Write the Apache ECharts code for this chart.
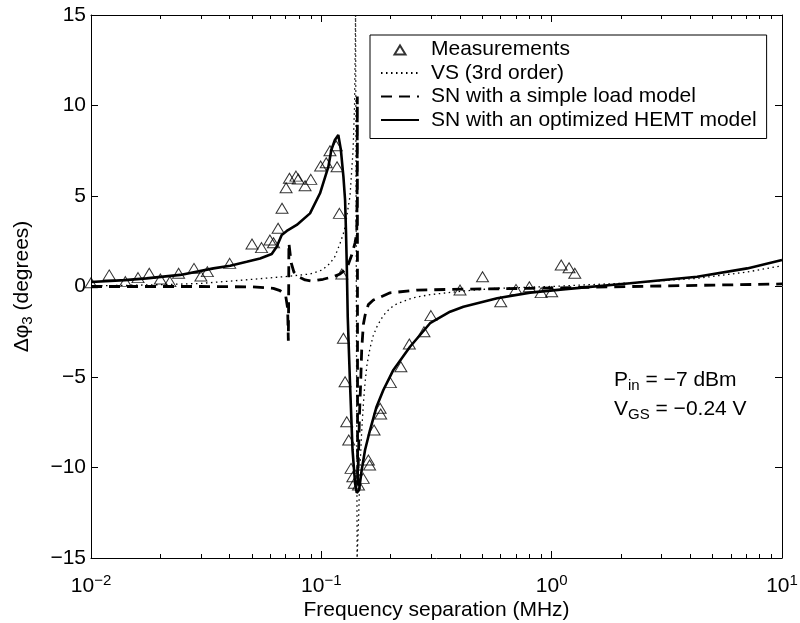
<!DOCTYPE html>
<html><head><meta charset="utf-8">
<script src="https://cdn.jsdelivr.net/npm/echarts@6/dist/echarts.min.js"></script>
<style>html,body{margin:0;padding:0;background:#fff}#c{width:800px;height:623px}</style>
</head><body><div id="c"></div>
<script>
// ---- data ----
const seriesNames = ['Measurements', 'VS (3rd order)', 'SN with a simple load model', 'SN with an optimized HEMT model'];

const measFreq = [0.0100,0.0120,0.0141,0.0160,0.0179,0.0200,0.0220,0.0240,0.0280,0.0300,0.0320,0.0400,0.0500,0.0550,0.0598,0.0620,0.0649,0.0675,0.0703,0.0727,0.0776,0.0794,0.0850,0.0900,0.0993,0.1050,0.1090,0.1160,0.1170,0.1198,0.1227,0.1247,0.1268,0.1289,0.1315,0.1346,0.1370,0.1390,0.1450,0.1520,0.1600,0.1620,0.1694,0.1800,0.1810,0.1994,0.2215,0.2410,0.2790,0.2990,0.4000,0.5010,0.6010,0.7000,0.8000,0.9000,1.0000,1.1000,1.1900,1.2600];
const measPhase = [0.21,0.64,0.27,0.49,0.73,0.41,0.27,0.73,1.00,0.58,0.82,1.28,2.35,2.15,2.57,2.42,3.22,4.32,5.46,5.98,6.10,5.94,5.57,5.92,6.66,6.84,7.50,7.78,6.62,4.04,0.69,-2.86,-5.26,-7.47,-8.48,-10.05,-10.51,-10.87,-10.97,-10.60,-9.59,-9.86,-7.93,-6.73,-7.04,-5.31,-4.43,-3.18,-2.50,-1.61,-0.19,0.54,-0.84,-0.16,-0.01,-0.34,-0.29,1.19,1.04,0.73];

const vsFreq = [0.01,0.02,0.03,0.0506,0.07,0.0893,0.1008,0.1091,0.1145,0.1206,0.1247,0.1268,0.1332,0.1373,0.1394,0.1408,0.1430,0.1450,0.1472,0.1497,0.1522,0.1548,0.1579,0.1627,0.1682,0.1746,0.1859,0.1988,0.2132,0.2502,0.2965,0.4124,0.5793,0.984,2.19,4.28,7.06,10];
const vsPhase = [0.03,0.10,0.17,0.40,0.55,0.69,0.91,1.28,1.65,2.38,2.94,3.30,5.0,7.5,10.0,15.0,-15.0,-13.0,-10.0,-8.0,-6.5,-5.3,-4.3,-3.4,-2.7,-2.2,-1.6,-1.2,-0.95,-0.62,-0.45,-0.25,-0.10,0.0,0.20,0.45,0.80,1.15];

const snSimpleFreq = [0.01,0.03,0.05,0.0619,0.0662,0.0700,0.0714,0.0719,0.0721,0.0723,0.0740,0.0760,0.0795,0.085,0.0908,0.1018,0.1128,0.1206,0.1290,0.1355,0.1400,0.1425,0.1430,0.1433,0.1437,0.1452,0.1465,0.1480,0.1497,0.1522,0.1548,0.1600,0.1682,0.1988,0.2596,0.3622,0.806,3.045,10];
const snSimplePhase = [0.0,0.0,-0.02,-0.10,-0.23,-0.50,-1.2,-3.0,-1.0,2.4,1.3,0.8,0.54,0.36,0.30,0.40,0.54,0.69,1.0,1.74,2.4,2.95,5.0,10.5,-11.0,-9.0,-7.0,-5.5,-3.5,-2.1,-1.6,-1.0,-0.75,-0.35,-0.20,-0.16,-0.10,0.03,0.14];

const snHemtFreq = [0.0100,0.0140,0.0174,0.0244,0.0340,0.0402,0.0474,0.0542,0.0609,0.0640,0.0673,0.0708,0.0782,0.0893,0.0987,0.1073,0.1105,0.1145,0.1185,0.1216,0.1247,0.1268,0.1280,0.1290,0.1302,0.1332,0.1366,0.1401,0.1425,0.1459,0.1497,0.1548,0.1627,0.1737,0.1859,0.2055,0.2427,0.2965,0.3622,0.414,0.58,0.806,1.12,2.19,4.28,7.06,10];
const snHemtPhase = [0.25,0.35,0.45,0.64,1.0,1.15,1.37,1.55,1.8,2.2,2.85,3.07,3.4,4.04,5.15,6.62,7.54,8.1,8.37,7.54,6.07,4.78,2.95,1.1,-1.67,-5.35,-9.03,-10.87,-11.4,-11.24,-10.14,-9.03,-7.93,-6.64,-5.72,-4.61,-3.33,-2.03,-1.39,-1.12,-0.65,-0.34,-0.16,0.18,0.54,1.0,1.46];

const xTickValues = [0.01, 0.1, 1, 10];
const xTickExponents = ['\u22122', '\u22121', '0', '1'];
const xMinorTicks = [0.02,0.03,0.04,0.05,0.06,0.07,0.08,0.09,0.2,0.3,0.4,0.5,0.6,0.7,0.8,0.9,2,3,4,5,6,7,8,9];
const yTickValues = [-15, -10, -5, 0, 5, 10, 15];

// ---- chart ----
const FONT = "'Liberation Sans', Arial, Helvetica, sans-serif";
const FS = 21;
const zip = (a, b) => a.map((v, i) => [v, b[i]]);

const chart = echarts.init(document.getElementById('c'), null, {renderer: 'canvas'});

const logBase = {type: 'log', logBase: 10, min: 0.01, max: 10, splitLine: {show: false}};
const axisLineBlack = {show: true, onZero: false, lineStyle: {color: '#000', width: 1}};
const noLine = {show: false, onZero: false};

const option = {
  backgroundColor: '#fff',
  animation: false,
  textStyle: {fontFamily: FONT},
  grid: {left: 91, right: 18, top: 15, bottom: 65, show: false, containLabel: false, outerBoundsMode: 'none'},
  xAxis: [
    Object.assign({}, logBase, {
      position: 'bottom', axisLine: axisLineBlack,
      axisTick: {show: true, inside: true, length: 7, customValues: xTickValues, lineStyle: {color: '#000'}},
      axisLabel: {
        show: true, margin: 15, customValues: xTickValues, color: '#000',
        formatter: function (v) {
          const e = Math.round(Math.log10(v));
          const idx = xTickValues.findIndex(t => Math.round(Math.log10(t)) === e);
          return '{b|10}{s|' + xTickExponents[idx] + '}';
        },
        rich: {
          b: {fontSize: FS, fontFamily: FONT, color: '#000'},
          s: {fontSize: 15, fontFamily: FONT, color: '#000', padding: [0, 0, 12, 0]}
        }
      },
      name: 'Frequency separation (MHz)', nameLocation: 'middle', nameGap: 42, nameMoveOverlap: false,
      nameTextStyle: {fontSize: FS, fontFamily: FONT, color: '#000'}
    }),
    Object.assign({}, logBase, {
      position: 'bottom', axisLine: noLine, axisLabel: {show: false},
      axisTick: {show: true, inside: true, length: 4, customValues: xMinorTicks, lineStyle: {color: '#000'}}
    }),
    Object.assign({}, logBase, {
      position: 'top', axisLine: axisLineBlack, axisLabel: {show: false},
      axisTick: {show: true, inside: true, length: 7, customValues: xTickValues, lineStyle: {color: '#000'}}
    }),
    Object.assign({}, logBase, {
      position: 'top', axisLine: noLine, axisLabel: {show: false},
      axisTick: {show: true, inside: true, length: 4, customValues: xMinorTicks, lineStyle: {color: '#000'}}
    })
  ],
  yAxis: [
    {
      type: 'value', min: -15, max: 15, interval: 5, position: 'left',
      axisLine: axisLineBlack, splitLine: {show: false},
      axisTick: {show: true, inside: true, length: 7, customValues: yTickValues, lineStyle: {color: '#000'}},
      axisLabel: {
        margin: 5, color: '#000', fontSize: FS, fontFamily: FONT, customValues: yTickValues,
        formatter: v => (v < 0 ? '\u2212' + Math.abs(v) : String(v))
      },
      name: '{m|\u0394\u03c6}{s|3}{m| (degrees)}', nameLocation: 'middle', nameGap: 56, nameRotate: 90, nameMoveOverlap: false,
      nameTextStyle: {
        color: '#000',
        rich: {
          m: {fontSize: FS, fontFamily: FONT, color: '#000'},
          s: {fontSize: 15, fontFamily: FONT, color: '#000', padding: [10, 0, 0, 0]}
        }
      }
    },
    {
      type: 'value', min: -15, max: 15, interval: 5, position: 'right',
      axisLine: axisLineBlack, splitLine: {show: false}, axisLabel: {show: false},
      axisTick: {show: true, inside: true, length: 7, customValues: yTickValues, lineStyle: {color: '#000'}}
    }
  ],
  legend: {
    orient: 'vertical', left: 370, top: 35,
    padding: [4, 10, 8, 10], itemGap: 2.5, itemWidth: 38, itemHeight: 10,
    backgroundColor: '#fff', borderColor: '#000', borderWidth: 1, borderRadius: 0,
    textStyle: {fontSize: FS, fontFamily: FONT, color: '#000', padding: [0, 0, 0, 7]},
    data: [
      {name: seriesNames[0], icon: 'path://M0,0M38,10M13.5,10L19,1L24.5,10Z'},
      {name: seriesNames[1]},
      {name: seriesNames[2]},
      {name: seriesNames[3]}
    ]
  },
  series: [
    {
      name: seriesNames[0], type: 'scatter', symbol: 'triangle', symbolSize: [12, 10],
      itemStyle: {color: 'rgba(255,255,255,0)', borderColor: '#000', borderWidth: 1},
      data: zip(measFreq, measPhase), z: 5
    },
    {
      name: seriesNames[1], type: 'line', symbol: 'none', showSymbol: false, clip: true,
      itemStyle: {color: 'rgba(0,0,0,0)', borderWidth: 0},
      lineStyle: {color: '#000', width: 1.3, type: [1.5, 3.5]},
      data: zip(vsFreq, vsPhase), z: 2
    },
    {
      name: seriesNames[2], type: 'line', symbol: 'none', showSymbol: false, clip: true,
      itemStyle: {color: 'rgba(0,0,0,0)', borderWidth: 0},
      lineStyle: {color: '#000', width: 2.8, type: [11, 7]},
      data: zip(snSimpleFreq, snSimplePhase), z: 3
    },
    {
      name: seriesNames[3], type: 'line', symbol: 'none', showSymbol: false, clip: true,
      itemStyle: {color: 'rgba(0,0,0,0)', borderWidth: 0},
      lineStyle: {color: '#000', width: 2.6},
      data: zip(snHemtFreq, snHemtPhase), z: 4
    }
  ],
  graphic: [
    {
      type: 'text', left: 614, top: 370, z: 10,
      style: {
        text: '{m|P}{s|in}{m| = \u22127 dBm}', fill: '#000',
        rich: {
          m: {fontSize: FS, fontFamily: FONT, fill: '#000', color: '#000'},
          s: {fontSize: 15, fontFamily: FONT, fill: '#000', color: '#000', padding: [10, 0, 0, 0]}
        }
      }
    },
    {
      type: 'text', left: 614, top: 399, z: 10,
      style: {
        text: '{m|V}{s|GS}{m| = \u22120.24 V}', fill: '#000',
        rich: {
          m: {fontSize: FS, fontFamily: FONT, fill: '#000', color: '#000'},
          s: {fontSize: 15, fontFamily: FONT, fill: '#000', color: '#000', padding: [10, 0, 0, 0]}
        }
      }
    }
  ]
};
chart.setOption(option);
</script>
</body></html>
